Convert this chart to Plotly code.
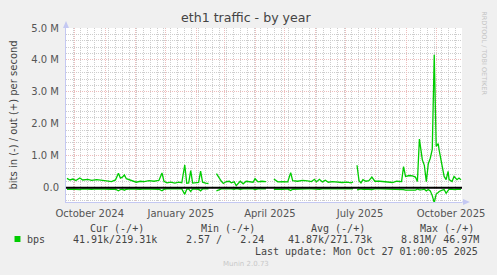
import plotly.graph_objects as go

# ---------------- data ----------------
title_text = "eth1 traffic - by year"
y_title = "bits in (-) / out (+) per second"

dates = [
    "2024-09-23", "2024-09-26", "2024-09-29", "2024-10-02", "2024-10-06", "2024-10-09",
    "2024-10-14", "2024-10-18", "2024-10-23", "2024-10-28", "2024-11-02", "2024-11-07",
    "2024-11-11", "2024-11-14", "2024-11-16", "2024-11-18", "2024-11-20", "2024-11-22",
    "2024-11-26", "2024-11-30", "2024-12-02", "2024-12-06", "2024-12-10", "2024-12-15",
    "2024-12-20", "2024-12-25", "2024-12-28", "2024-12-30", "2025-01-02", "2025-01-06",
    "2025-01-10", "2025-01-14", "2025-01-17", "2025-01-20", "2025-01-22", "2025-01-24",
    "2025-01-26", "2025-01-28", "2025-02-01", "2025-02-03", "2025-02-05", "2025-02-07",
    "2025-02-10", "2025-02-13", "2025-02-16", "2025-02-21", "2025-02-24", "2025-02-26",
    "2025-02-28", "2025-03-03", "2025-03-06", "2025-03-08", "2025-03-11", "2025-03-13",
    "2025-03-17", "2025-03-20", "2025-03-23", "2025-03-27", "2025-03-30", "2025-04-01",
    "2025-04-04", "2025-04-08", "2025-04-12", "2025-04-16", "2025-04-20", "2025-04-24",
    "2025-04-29", "2025-05-04", "2025-05-07", "2025-05-09", "2025-05-14", "2025-05-19",
    "2025-05-24", "2025-05-28", "2025-05-31", "2025-06-02", "2025-06-05", "2025-06-08",
    "2025-06-11", "2025-06-14", "2025-06-18", "2025-06-23", "2025-06-28", "2025-07-03",
    "2025-07-07", "2025-07-09", "2025-07-11", "2025-07-13", "2025-07-15", "2025-07-17",
    "2025-07-19", "2025-07-22", "2025-07-25", "2025-07-28", "2025-07-31", "2025-08-05",
    "2025-08-10", "2025-08-15", "2025-08-18", "2025-08-22", "2025-08-27", "2025-08-29",
    "2025-08-31", "2025-09-04", "2025-09-07", "2025-09-10", "2025-09-12", "2025-09-14",
    "2025-09-17", "2025-09-19", "2025-09-21", "2025-09-23", "2025-09-25", "2025-09-27",
    "2025-09-29", "2025-10-01", "2025-10-03", "2025-10-04", "2025-10-07", "2025-10-09",
    "2025-10-11", "2025-10-13", "2025-10-14", "2025-10-17", "2025-10-19", "2025-10-22",
    "2025-10-24", "2025-10-26",
]

# out (+), in Mbit/s
out_mbps = [
    0.29, 0.24, 0.27, 0.22, 0.30, 0.24,
    0.26, 0.23, 0.25, 0.24, 0.21, 0.19,
    0.24, 0.45, 0.30, 0.33, 0.40, 0.28,
    0.24, 0.20, 0.17, 0.20, 0.19, 0.22,
    0.20, 0.23, 0.46, 0.20, 0.15, 0.17,
    0.14, 0.17, 0.15, 0.71, 0.14, 0.15,
    0.53, 0.14, 0.14, 0.16, 0.52, 0.17,
    0.14, 0.13, None, 0.44, 0.27, 0.20,
    0.13, 0.19, 0.20, 0.15, 0.18, 0.06,
    0.20, 0.12, 0.20, 0.18, 0.17, 0.28,
    0.18, 0.20, 0.19, None, 0.27, 0.18,
    0.19, 0.18, 0.47, 0.22, 0.20, 0.23,
    0.21, 0.19, 0.26, 0.18, 0.26, 0.18,
    0.23, 0.17, 0.19, 0.17, 0.16, 0.17,
    0.15, 0.18, None, 0.70, 0.22, 0.15,
    0.25, 0.20, 0.22, 0.33, 0.20, 0.20,
    0.19, 0.18, 0.16, 0.20, 0.19, 0.66,
    0.35, 0.38, 0.37, 0.33, 0.19, 1.52,
    0.87, 0.70, 0.19, 0.75, 0.92, 1.20,
    4.16, 1.29, 1.38, 1.17, 0.66, 0.35,
    0.25, 0.51, 0.25, 0.19, 0.35, 0.25,
    0.30, 0.25,
]

# in (-), Mbit/s (negative side)
in_mbps = [
    -0.05, -0.04, -0.05, -0.05, -0.06, -0.04,
    -0.05, -0.05, -0.04, -0.05, -0.04, -0.05,
    -0.05, -0.10, -0.06, -0.05, -0.08, -0.05,
    -0.04, -0.05, -0.04, -0.05, -0.04, -0.05,
    -0.04, -0.05, -0.10, -0.05, -0.04, -0.04,
    -0.05, -0.04, -0.04, -0.21, -0.05, -0.04,
    -0.12, -0.04, -0.04, -0.05, -0.10, -0.04,
    -0.04, -0.04, None, -0.10, -0.05, -0.04,
    -0.04, -0.05, -0.04, -0.04, -0.05, -0.03,
    -0.05, -0.04, -0.05, -0.04, -0.04, -0.06,
    -0.04, -0.05, -0.04, None, -0.05, -0.04,
    -0.05, -0.04, -0.09, -0.05, -0.04, -0.05,
    -0.04, -0.04, -0.05, -0.04, -0.05, -0.04,
    -0.05, -0.04, -0.04, -0.04, -0.04, -0.04,
    -0.04, -0.04, None, -0.07, -0.05, -0.04,
    -0.05, -0.04, -0.05, -0.06, -0.04, -0.04,
    -0.04, -0.04, -0.04, -0.04, -0.04, -0.06,
    -0.08, -0.08, -0.07, -0.08, -0.04, -0.07,
    -0.06, -0.05, -0.10, -0.06, -0.10, -0.25,
    -0.47, -0.20, -0.15, -0.12, -0.08, -0.06,
    -0.18, -0.06, -0.05, -0.05, -0.06, -0.05,
    -0.05, -0.05,
]

x_start = "2024-09-22 01:00:05"
x_end = "2025-10-27 01:00:05"
month_starts = [
    "2024-10-01", "2024-11-01", "2024-12-01", "2025-01-01", "2025-02-01", "2025-03-01",
    "2025-04-01", "2025-05-01", "2025-06-01", "2025-07-01", "2025-08-01", "2025-09-01",
    "2025-10-01",
]
label_dates = ["2024-10-16", "2025-01-16", "2025-04-16", "2025-07-16", "2025-10-16"]
label_text = ["October 2024", "January 2025", "April 2025", "July 2025", "October 2025"]

y_ticks = [0, 1e6, 2e6, 3e6, 4e6, 5e6]
y_labels = ["0.0", "1.0 M", "2.0 M", "3.0 M", "4.0 M", "5.0 M"]

legend_name = "bps"
legend_headers = ["Cur (-/+)", "Min (-/+)", "Avg (-/+)", "Max (-/+)"]
legend_values = ["41.91k/219.31k", "2.57 /   2.24", "41.87k/271.73k", "8.81M/ 46.97M"]
last_update = "Last update: Mon Oct 27 01:00:05 2025"
footer = "Munin 2.0.73"
watermark = "RRDTOOL / TOBI OETIKER"

# ---------------- layout geometry ----------------
W, H = 497, 275
L, R, T, B = 66, 31, 28, 73
PW, PH = W - L - R, H - T - B

def px(x):
    return (x - L) / PW

def py(y):
    return (H - B - y) / PH

GREEN = "#00CC00"
AXIS = "#C4C8F2"
MAJ = "#EDBDBD"
MIN = "#CDCDCD"
TXT = "#555555"
FONT = "DejaVu Sans"
MONO = "DejaVu Sans Mono"

out_bps = [v * 1e6 if v is not None else None for v in out_mbps]
in_bps = [v * 1e6 if v is not None else None for v in in_mbps]

fig = go.Figure()
fig.add_trace(go.Scatter(x=dates, y=in_bps, mode="lines",
                         line=dict(color=GREEN, width=1.3), connectgaps=False,
                         hoverinfo="skip", showlegend=False))
fig.add_trace(go.Scatter(x=dates, y=out_bps, mode="lines",
                         line=dict(color=GREEN, width=1.3), connectgaps=False,
                         hoverinfo="skip", showlegend=False))
# HRULE at zero
fig.add_trace(go.Scatter(x=[x_start, x_end], y=[0, 0], mode="lines", xaxis="x2",
                         line=dict(color="#000000", width=2),
                         hoverinfo="skip", showlegend=False))

fig.update_layout(
    width=W, height=H,
    margin=dict(l=L, r=R, t=T, b=B, pad=0),
    paper_bgcolor="#F0F0F0",
    plot_bgcolor="#FFFFFF",
    showlegend=False,
    xaxis=dict(
        type="date", range=[x_start, x_end],
        tickmode="array", tickvals=label_dates, ticktext=label_text,
        showgrid=False, zeroline=False, ticks="",
        showline=True, linecolor=AXIS, linewidth=1,
        tickfont=dict(family=FONT, size=10, color=TXT),
        ticklabelstandoff=2,
        minor=dict(dtick=7 * 86400000, tick0="2024-09-23", showgrid=True,
                   gridcolor=MIN, griddash="1px,1px", gridwidth=1),
    ),
    xaxis2=dict(
        type="date", range=[x_start, x_end], overlaying="x", anchor="y",
        tickmode="array", tickvals=month_starts, showticklabels=False,
        showgrid=True, gridcolor=MAJ, griddash="1px,1px", gridwidth=1,
        zeroline=False, ticks="", showline=False,
    ),
    yaxis=dict(
        range=[-0.45e6, 5.0e6],
        tickmode="array", tickvals=y_ticks, ticktext=y_labels,
        showgrid=True, gridcolor=MAJ, griddash="1px,1px", gridwidth=1,
        zeroline=False, ticks="",
        showline=True, linecolor=AXIS, linewidth=1,
        tickfont=dict(family=FONT, size=10, color=TXT),
        ticklabelstandoff=4,
        minor=dict(dtick=2e5, tick0=0, showgrid=True,
                   gridcolor=MIN, griddash="1px,1px", gridwidth=1),
    ),
)

shapes = [
    # axis arrows
    dict(type="path", xref="paper", yref="paper",
         path=f"M {px(63)},{py(28)} L {px(69)},{py(28)} L {px(66)},{py(21)} Z",
         fillcolor=AXIS, line=dict(width=0)),
    dict(type="path", xref="paper", yref="paper",
         path=f"M {px(467)},{py(199)} L {px(467)},{py(205)} L {px(474)},{py(202)} Z",
         fillcolor=AXIS, line=dict(width=0)),
    dict(type="line", xref="paper", yref="paper",
         x0=px(L + PW), x1=px(468), y0=py(202), y1=py(202),
         line=dict(color=AXIS, width=1)),
    # legend swatch
    dict(type="rect", xref="paper", yref="paper",
         x0=px(14), x1=px(20), y0=py(242), y1=py(236),
         fillcolor=GREEN, line=dict(width=0)),
]
fig.update_layout(shapes=shapes)

def ann(x, y, text, size=10, family=FONT, color=TXT, xanchor="left", angle=0):
    fig.add_annotation(x=px(x), y=py(y), xref="paper", yref="paper", text=text,
                       showarrow=False, xanchor=xanchor, yanchor="middle",
                       textangle=angle, borderpad=0,
                       font=dict(family=family, size=size, color=color))

def nb(s):
    return s.replace(" ", "\u00a0")

ann(248, 18, title_text, size=12.6, color="#444444", xanchor="center")
ann(12, 115, y_title, size=10, color="#444444", xanchor="center", angle=-90)
ann(488, 53, watermark, size=6.5, color="#C4C4C4", xanchor="center", angle=90)

header_x = [89, 201, 312, 423]
value_x = [72, 186, 289, 403]
for hx, h in zip(header_x, legend_headers):
    ann(hx, 228, nb(h), family=MONO, color="#444444")
ann(26, 239, legend_name, family=MONO, color="#444444")
for vx, v in zip(value_x, legend_values):
    ann(vx, 239, nb(v), family=MONO, color="#444444")
ann(483, 251, nb(last_update), family=MONO, color="#444444", xanchor="right")
ann(248, 264, footer, size=7, color="#C8C8C8", xanchor="center")

fig.write_html("out.html", config={"displayModeBar": False})
